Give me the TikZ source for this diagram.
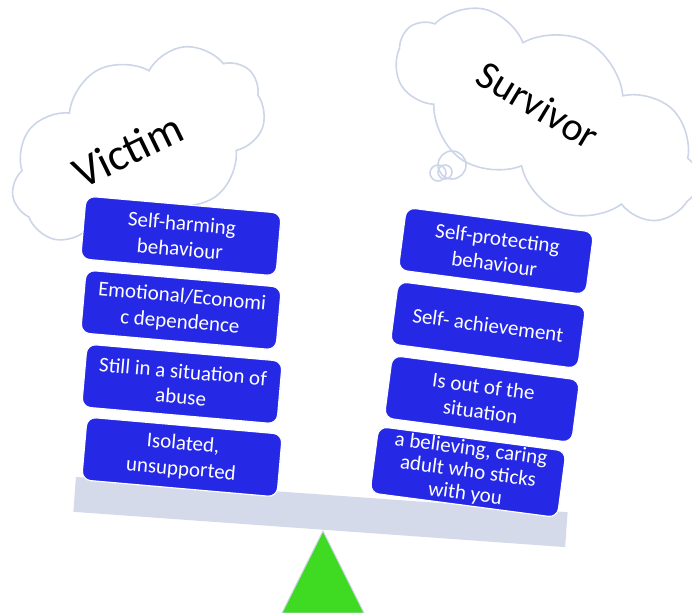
\documentclass[tikz,border=0pt]{standalone}
\usepackage{fontspec}
\setmainfont{Carlito}
\usetikzlibrary{shapes.symbols}
\definecolor{boxblue}{RGB}{37,41,230}
\definecolor{cloudline}{RGB}{205,213,232}
\definecolor{beamcol}{RGB}{212,218,233}
\definecolor{fulcrumcol}{RGB}{62,219,34}
\begin{document}
\begin{tikzpicture}[x=1pt,y=-1pt,
  thought/.style={cloud, cloud puffs=9, cloud puff arc=115, cloud ignores aspect, draw=cloudline, line width=1.6pt, fill=white, inner sep=0pt},
  bubble/.style={draw=cloudline, line width=1.6pt},
  itembox/.style={rectangle, rounded corners=9pt, fill=boxblue, draw=white, line width=1.2pt, text=white, minimum width=196pt, minimum height=63pt, align=center, inner sep=2pt, font=\fontsize{21}{25.5}\selectfont},
  rbox/.style={itembox, minimum width=189pt, rotate=-7.5},
  lbox/.style={itembox, rotate=-5},
  beamstyle/.style={rectangle, fill=beamcol, draw=none, minimum width=493pt, minimum height=35pt, inner sep=0pt}
 ]
\useasboundingbox (0,0) rectangle (692,612);
% clouds
\node[thought, minimum width=272pt, minimum height=172pt, rotate=28] (lcloud) at (138,146) {};
\node[thought, minimum width=332pt, minimum height=168pt, rotate=-28] (rcloud) at (548,116) {};
\draw[bubble] (452,165) circle (14pt);
\draw[bubble] (438,173) circle (8pt);
\draw[bubble] (445,172) circle (7pt);
\node[rotate=26, font=\fontsize{45}{54}\selectfont] (victim) at (128,150) {Victim};
\node[rotate=-31, font=\fontsize{40}{48}\selectfont] (survivor) at (538,105) {Survivor};
% beam and fulcrum
\node[beamstyle, rotate=-4.1] (beam) at (320.5,512) {};
\fill[fulcrumcol, draw=cloudline, line width=1pt] (323,531) -- (282,613) -- (364,613) -- cycle;
% left boxes
\node[lbox] (l1) at (181,236) {Self-harming\\behaviour};
\node[lbox] (l2) at (181,310) {Emotional/Economi\\c dependence};
\node[lbox] (l3) at (182,384) {Still in a situation of\\abuse};
\node[lbox] (l4) at (182,457) {Isolated,\\unsupported};
% right boxes
\node[rbox] (r1) at (496,251) {Self-protecting\\behaviour};
\node[rbox] (r2) at (488,325) {Self- achievement};
\node[rbox] (r3) at (482,399) {Is out of the\\situation};
\node[rbox, font=\fontsize{21}{22.5}\selectfont] (r4) at (468,472) {a believing, caring\\adult who sticks\\with you};
\end{tikzpicture}
\end{document}
